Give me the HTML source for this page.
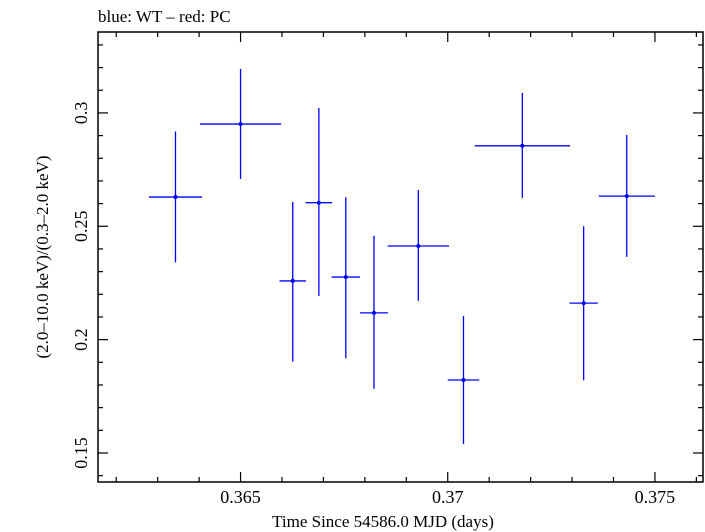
<!DOCTYPE html>
<html><head><meta charset="utf-8"><style>
html,body{margin:0;padding:0;background:#fff;}
svg{display:block;font-family:"Liberation Serif","DejaVu Serif",serif;}
</style></head><body>
<svg id="chart" width="705" height="532">
<text x="98" y="22" font-size="17">blue: WT – red: PC</text>
<rect x="98" y="32" width="605" height="450" fill="none" stroke="#000" stroke-width="1.5"/>
<g id="ticks"></g>
<g id="marks"></g>
<text x="383" y="527" font-size="17" text-anchor="middle">Time Since 54586.0 MJD (days)</text>
<text transform="translate(48,257) rotate(-90)" font-size="17" text-anchor="middle">(2.0–10.0 keV)/(0.3–2.0 keV)</text>
</svg>
<script>
const times=[0.36343,0.3650,0.36626,0.36689,0.36754,0.36822,0.36929,0.37038,0.3718,0.37328,0.37432];
const timeErr=[0.00064,0.00098,0.00032,0.00032,0.00034,0.00034,0.00074,0.00038,0.00115,0.00034,0.00068];
const ratios=[0.2629,0.2951,0.2259,0.2604,0.2276,0.2118,0.2413,0.1822,0.2855,0.2161,0.2633];
const ratioHi=[0.2918,0.3194,0.2607,0.3022,0.2628,0.2458,0.2660,0.2104,0.3088,0.2500,0.2903];
const ratioLo=[0.2341,0.2709,0.1903,0.2193,0.1918,0.1783,0.2171,0.1540,0.2625,0.1821,0.2365];
const xTickLabels=["0.365","0.37","0.375"];
const yTickLabels=["0.15","0.2","0.25","0.3"];
const X0=98,X1=703,Y0=32,Y1=482,xmin=0.36156,xmax=0.37616,ymin=0.1372,ymax=0.3357;
const sx=v=>X0+(v-xmin)/(xmax-xmin)*(X1-X0);
const sy=v=>Y1-(v-ymin)/(ymax-ymin)*(Y1-Y0);
const NS="http://www.w3.org/2000/svg";
function mk(tag,attrs,parent){const e=document.createElementNS(NS,tag);for(const k in attrs)e.setAttribute(k,attrs[k]);parent.appendChild(e);return e;}
const tg=document.getElementById('ticks');
for(let i=362;i<=376;i++){const v=i/1000;const x=sx(v);const maj=i%5===0;const L=maj?10:5;
 let t=mk('line',{x1:x,y1:Y1,x2:x,y2:Y1-L,stroke:'#000','stroke-width':1.2},tg);
 
 t=mk('line',{x1:x,y1:Y0,x2:x,y2:Y0+L,stroke:'#000','stroke-width':1.2},tg);
 }
xTickLabels.forEach(s=>{const t=mk('text',{x:sx(parseFloat(s)),y:503,'font-size':18,'text-anchor':'middle'},tg);t.textContent=s;
 });
for(let i=14;i<=33;i++){const v=i/100;const y=sy(v);const maj=i%5===0;const L=maj?10:5;
 let t=mk('line',{x1:X0,y1:y,x2:X0+L,y2:y,stroke:'#000','stroke-width':1.2},tg);
 
 t=mk('line',{x1:X1,y1:y,x2:X1-L,y2:y,stroke:'#000','stroke-width':1.2},tg);
 }
yTickLabels.forEach(s=>{const y=sy(parseFloat(s));const t=mk('text',{transform:`translate(87,${y}) rotate(-90)`,'font-size':18,'text-anchor':'middle'},tg);t.textContent=s;
 });
const mg=document.getElementById('marks');
times.forEach((t,i)=>{const g=mk('g',{},mg);
 
 mk('line',{x1:sx(t-timeErr[i]),x2:sx(t+timeErr[i]),y1:sy(ratios[i]),y2:sy(ratios[i]),stroke:'#0000ff','stroke-width':1.3},g);
 mk('line',{x1:sx(t),x2:sx(t),y1:sy(ratioHi[i]),y2:sy(ratioLo[i]),stroke:'#0000ff','stroke-width':1.3},g);
 mk('circle',{cx:sx(t),cy:sy(ratios[i]),r:2,fill:'#0000ff'},g);});
</script>
</body></html>
